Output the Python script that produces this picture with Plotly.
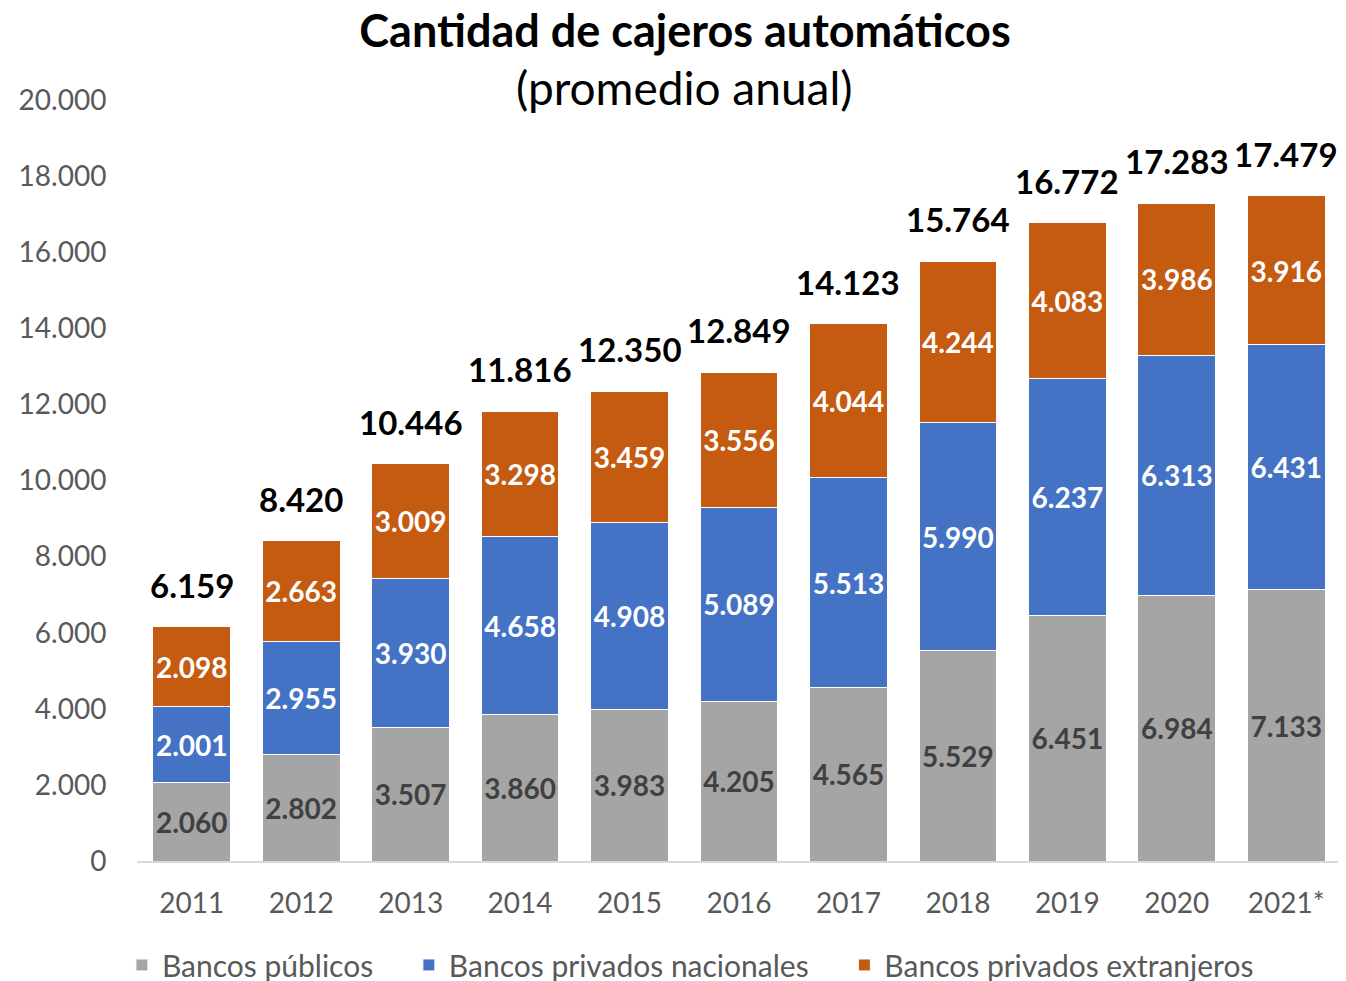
import plotly.graph_objects as go

years = ['2011', '2012', '2013', '2014', '2015', '2016', '2017', '2018', '2019', '2020', '2021*']
publicos = [2060, 2802, 3507, 3860, 3983, 4205, 4565, 5529, 6451, 6984, 7133]
nacionales = [2001, 2955, 3930, 4658, 4908, 5089, 5513, 5990, 6237, 6313, 6431]
extranjeros = [2098, 2663, 3009, 3298, 3459, 3556, 4044, 4244, 4083, 3986, 3916]
totales = [6159, 8420, 10446, 11816, 12350, 12849, 14123, 15764, 16772, 17283, 17479]

FONT = 'Lato'
PAD = '\u00a0' * 4
series = [
    ('Bancos públicos' + PAD, publicos, '#A5A5A5', '#404040'),
    ('Bancos privados nacionales' + PAD, nacionales, '#4472C4', 'white'),
    ('Bancos privados extranjeros', extranjeros, '#C55A11', 'white'),
]


def fmt(v):
    return f'{v:,}'.replace(',', '.')


fig = go.Figure()
for name, vals, color, txtcolor in series:
    fig.add_trace(go.Bar(
        x=years, y=vals, name=name,
        marker=dict(color=color, line=dict(color='white', width=1)),
        text=['<b>%s</b>' % fmt(v) for v in vals], textposition='inside',
        insidetextanchor='middle', textangle=0,
        textfont=dict(family=FONT, size=30, color=txtcolor),
    ))

# category axes take the serial index of each category
for i, t in enumerate(totales):
    fig.add_annotation(x=i, y=t, text='<b>%s</b>' % fmt(t),
                       showarrow=False, yanchor='bottom', yshift=20,
                       font=dict(family=FONT, size=33, color='black'))

fig.add_annotation(text='(promedio anual)', xref='paper', yref='paper',
                   x=0.455, y=1.0158, showarrow=False, yanchor='middle',
                   font=dict(family=FONT, size=46, color='black'))

fig.update_layout(
    width=1346, height=981,
    barmode='stack', bargap=0.29,
    separators=',.',
    plot_bgcolor='white', paper_bgcolor='white',
    margin=dict(l=129, r=13, t=92, b=128),
    title=dict(text='<b>Cantidad de cajeros automáticos</b>', x=0.503, xanchor='center',
               y=0.976, yanchor='middle', font=dict(family=FONT, size=45, color='black')),
    legend=dict(orientation='h', xref='container', yref='container', x=0.507, xanchor='center',
                y=0.0245, yanchor='middle', font=dict(family=FONT, size=30, color='#595959'),
                traceorder='normal'),
    font=dict(family=FONT),
)
fig.update_xaxes(type='category', range=[-0.5, len(years) - 0.5], automargin=False,
                 showline=True, linecolor='#D9D9D9', linewidth=2,
                 ticks='outside', ticklen=16, tickcolor='rgba(0,0,0,0)',
                 tickfont=dict(family=FONT, size=28, color='#595959'))
fig.update_yaxes(range=[0, 20000], dtick=2000, tickformat=',d', showgrid=False, automargin=False,
                 zeroline=False, ticks='outside', ticklen=24, tickcolor='rgba(0,0,0,0)',
                 tickfont=dict(family=FONT, size=28, color='#595959'))

fig.write_html('out.html')
